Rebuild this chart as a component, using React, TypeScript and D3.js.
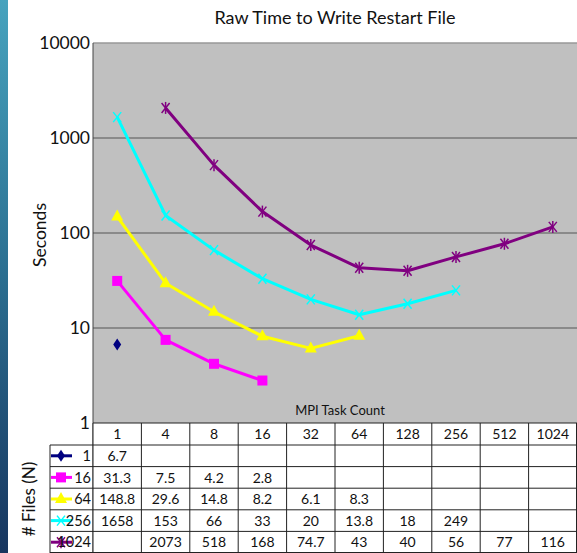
import React from "react";
import * as d3 from "d3";

const taskCounts = ["1", "4", "8", "16", "32", "64", "128", "256", "512", "1024"];
const yTicks = [1, 10, 100, 1000, 10000];

// plotted values (null = no run)
const files1 = [6.7, null, null, null, null, null, null, null, null, null];
const files16 = [31.3, 7.5, 4.2, 2.8, null, null, null, null, null, null];
const files64 = [148.8, 29.6, 14.8, 8.2, 6.1, 8.3, null, null, null, null];
const files256 = [1658, 153, 66, 33, 20, 13.8, 18, 24.9, null, null];
const files1024 = [null, 2073, 518, 168, 74.7, 43, 40, 56, 77, 116];

// table text as printed under the chart
const table1 = ["6.7", "", "", "", "", "", "", "", "", ""];
const table16 = ["31.3", "7.5", "4.2", "2.8", "", "", "", "", "", ""];
const table64 = ["148.8", "29.6", "14.8", "8.2", "6.1", "8.3", "", "", "", ""];
const table256 = ["1658", "153", "66", "33", "20", "13.8", "18", "249", "", ""];
const table1024 = ["", "2073", "518", "168", "74.7", "43", "40", "56", "77", "116"];

type Marker = "diamond" | "square" | "triangle" | "x" | "star";
const series: { name: string; values: (number | null)[]; cells: string[]; color: string; marker: Marker }[] = [
  { name: "1", values: files1, cells: table1, color: "#000080", marker: "diamond" },
  { name: "16", values: files16, cells: table16, color: "#ff00ff", marker: "square" },
  { name: "64", values: files64, cells: table64, color: "#ffff00", marker: "triangle" },
  { name: "256", values: files256, cells: table256, color: "#00ffff", marker: "x" },
  { name: "1024", values: files1024, cells: table1024, color: "#800080", marker: "star" },
];

const W = 577;
const H = 553;
const plot = { left: 93, right: 577, top: 43, bottom: 423 };
const legendLeft = 50;
const headerH = 22;
const rowH = 21.6;
const font = "Lato, 'Open Sans', sans-serif";

function MarkerShape({ type, x, y, color }: { type: Marker; x: number; y: number; color: string }) {
  const s = 5;
  if (type === "diamond")
    return <path d={`M${x},${y - 6}L${x + 4},${y}L${x},${y + 6}L${x - 4},${y}Z`} fill={color} />;
  if (type === "square") return <rect x={x - s} y={y - s} width={s * 2} height={s * 2} fill={color} />;
  if (type === "triangle")
    return <path d={`M${x},${y - 7}L${x + 6},${y + 4}L${x - 6},${y + 4}Z`} fill={color} />;
  return (
    <g stroke={color} strokeWidth={1.5}>
      <line x1={x - 4} y1={y - 5} x2={x + 4} y2={y + 5} />
      <line x1={x - 4} y1={y + 5} x2={x + 4} y2={y - 5} />
      {type === "star" && <line x1={x} y1={y - 6} x2={x} y2={y + 6} />}
    </g>
  );
}

export default function App() {
  const x = d3.scaleBand<string>().domain(taskCounts).range([plot.left, plot.right]);
  const y = d3.scaleLog().domain([1, 10000]).range([plot.bottom, plot.top]);
  const cx = (c: string) => (x(c) ?? 0) + x.bandwidth() / 2;

  const line = d3
    .line<number | null>()
    .defined((d) => d != null)
    .x((_, i) => cx(taskCounts[i]))
    .y((d) => y(d as number));

  const tableTop = plot.bottom;
  const rowsTop = tableTop + headerH;
  const tableBottom = rowsTop + rowH * series.length;

  return (
    <svg width={W} height={H} style={{ position: "absolute", left: 0, top: 0, background: "#fff" }}>
      <defs>
        <linearGradient id="strip" x1="0" x2="0" y1="0" y2="1">
          <stop offset="0%" stopColor="#47a3be" />
          <stop offset="50%" stopColor="#2b6e90" />
          <stop offset="100%" stopColor="#18365f" />
        </linearGradient>
      </defs>
      <rect x={0} y={0} width={8} height={H} fill="url(#strip)" />

      <text x={335} y={24} textAnchor="middle" fontFamily={font} fontSize={18} fill="#111">
        Raw Time to Write Restart File
      </text>

      <rect x={plot.left} y={plot.top} width={plot.right - plot.left} height={plot.bottom - plot.top} fill="#c0c0c0" />
      <line x1={plot.left} x2={plot.right} y1={plot.top} y2={plot.top} stroke="#999" strokeWidth={1.5} />
      {yTicks.slice(1, -1).map((t) => (
        <line key={t} x1={plot.left} x2={plot.right} y1={y(t)} y2={y(t)} stroke="#555" strokeWidth={1.2} />
      ))}
      <line x1={plot.left} x2={plot.left} y1={plot.top} y2={tableBottom} stroke="#444" strokeWidth={1} />
      {yTicks.map((t) => (
        <text key={t} x={plot.left - 3} y={y(t) + 6} textAnchor="end" fontFamily={font} fontSize={17.5} fill="#111">
          {t}
        </text>
      ))}
      <text transform={`translate(46,${(plot.top + plot.bottom) / 2 + 2}) rotate(-90)`} textAnchor="middle" fontFamily={font} fontSize={17.5} fill="#111">
        Seconds
      </text>
      <text x={340} y={415} textAnchor="middle" fontFamily={font} fontSize={13} fill="#111">
        MPI Task Count
      </text>

      {series.map((s) => (
        <g key={s.name}>
          <path d={line(s.values) ?? ""} fill="none" stroke={s.color} strokeWidth={3} strokeLinejoin="round" />
          {s.values.map((v, i) =>
            v == null ? null : <MarkerShape key={i} type={s.marker} x={cx(taskCounts[i])} y={y(v)} color={s.color} />
          )}
        </g>
      ))}

      {/* data table */}
      <g fontFamily={font} fontSize={14} fill="#111" textAnchor="middle">
        <rect x={plot.left} y={tableTop} width={plot.right - plot.left} height={tableBottom - tableTop} fill="#fff" />
        {taskCounts.map((c) => (
          <text key={c} x={cx(c)} y={tableTop + 16}>
            {c}
          </text>
        ))}
        {series.map((s, r) => {
          const ry = rowsTop + r * rowH;
          return (
            <g key={s.name}>
              {s.cells.map((t, i) => (
                <text key={i} x={cx(taskCounts[i])} y={ry + 16}>
                  {t}
                </text>
              ))}
              <line x1={legendLeft + 1} x2={legendLeft + 22} y1={ry + rowH / 2} y2={ry + rowH / 2} stroke={s.color} strokeWidth={3} />
              <MarkerShape type={s.marker} x={legendLeft + 11} y={ry + rowH / 2} color={s.color} />
              <text x={plot.left - 2} y={ry + 16} textAnchor="end" fontSize={14.5}>
                {s.name}
              </text>
            </g>
          );
        })}
        <g stroke="#222" strokeWidth={1}>
          {taskCounts.map((c) => (
            <line key={c} x1={x(c) ?? 0} x2={x(c) ?? 0} y1={tableTop} y2={tableBottom} />
          ))}
          <line x1={plot.left} x2={plot.right} y1={tableTop} y2={tableTop} />
          <line x1={legendLeft} x2={legendLeft} y1={rowsTop} y2={tableBottom} />
          {series.map((s, r) => (
            <line key={s.name} x1={legendLeft} x2={plot.right} y1={rowsTop + r * rowH} y2={rowsTop + r * rowH} />
          ))}
          <line x1={legendLeft} x2={plot.right} y1={tableBottom - 0.5} y2={tableBottom - 0.5} />
          <line x1={plot.right - 0.5} x2={plot.right - 0.5} y1={tableTop} y2={tableBottom} />
        </g>
      </g>
      <text transform={`translate(35,${rowsTop + (rowH * series.length) / 2}) rotate(-90)`} textAnchor="middle" fontFamily={font} fontSize={17} fill="#111">
        # Files (N)
      </text>
    </svg>
  );
}
